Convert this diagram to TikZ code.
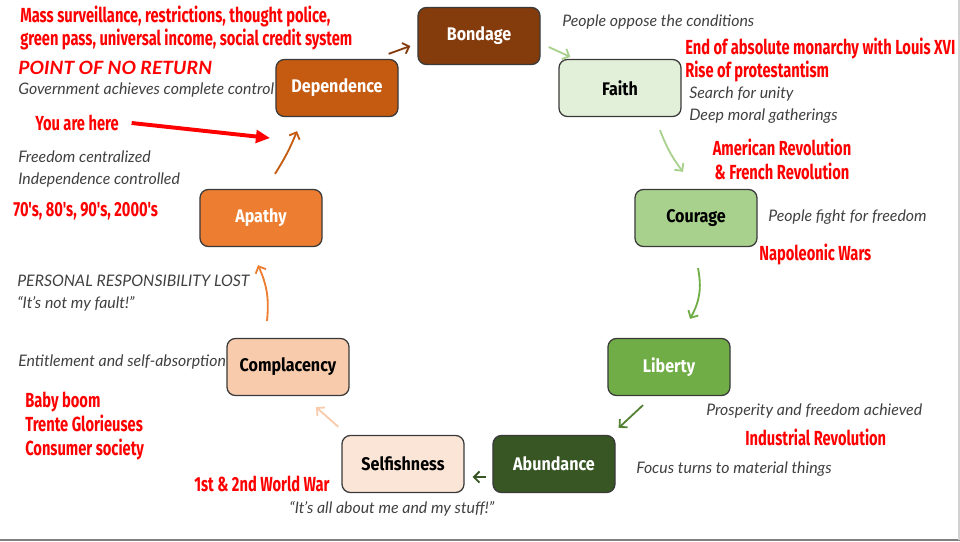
\documentclass[tikz,border=0pt]{standalone}
\usepackage{fontspec}
\setmainfont{Lato}
\newfontfamily\boxfont[FakeStretch=0.88]{Fira Sans}
\newfontfamily\redfont[FakeStretch=0.72]{Fira Sans}
\newfontfamily\ponrfont[FakeStretch=1.06]{Lato}
\usetikzlibrary{positioning, arrows.meta}

\definecolor{bondc}{HTML}{843C0C}
\definecolor{depc}{HTML}{C55A11}
\definecolor{apac}{HTML}{ED7D31}
\definecolor{compc}{HTML}{F8CBAD}
\definecolor{selfc}{HTML}{FBE5D6}
\definecolor{abundc}{HTML}{375623}
\definecolor{libc}{HTML}{70AD47}
\definecolor{libarr}{HTML}{548235}
\definecolor{courc}{HTML}{A9D18E}
\definecolor{faithc}{HTML}{E2F0D9}
\definecolor{edgec}{HTML}{3A3A3A}
\definecolor{notec}{HTML}{404040}
\definecolor{evred}{HTML}{FF0000}

\begin{document}
\begin{tikzpicture}[x=0.025cm, y=-0.025cm,
    stage/.style={draw=edgec, line width=0.9pt, rounded corners=6pt,
        minimum width=3.05cm, minimum height=1.425cm,
        font=\boxfont\bfseries\fontsize{13}{14}\selectfont},
    note/.style={anchor=west, inner sep=0pt, text=notec, align=left,
        font=\itshape\fontsize{11.3}{15.6}\selectfont},
    event/.style={anchor=west, inner sep=0pt, text=evred, align=left,
        font=\redfont\bfseries\fontsize{14.5}{17}\selectfont},
    arr/.style={-{Straight Barb[length=4pt,width=8pt]}, line width=1.3pt}]
    \useasboundingbox (0,0) rectangle (960,541);
    \draw[gray, line width=1.4pt] (0,540) -- (960,540);
    \draw[gray!35, line width=1pt] (959,0) -- (959,540);

    % The cycle
    \node[stage, fill=bondc, text=white] (bond) at (479,36) {Bondage};
    \node[stage, fill=faithc] (faith) at (620,88) {Faith};
    \node[stage, fill=courc] (cour) at (696,218) {Courage};
    \node[stage, fill=libc, text=white] (lib) at (669,367) {Liberty};
    \node[stage, fill=abundc, text=white] (abund) at (554,464) {Abundance};
    \node[stage, fill=selfc] (self) at (403,464) {Selfishness};
    \node[stage, fill=compc] (comp) at (288,367) {Complacency};
    \node[stage, fill=apac, text=white] (apa) at (261,218) {Apathy};
    \node[stage, fill=depc, text=white] (dep) at (337,88) {Dependence};

    \draw[arr, bondc] ([shift={(-10,-5)}]dep.north east) -- ([shift={(-7,10)}]bond.west);
    \draw[arr, courc] ([shift={(8,11)}]bond.east) -- ([shift={(12,-2)}]faith.north west);
    \draw[arr, courc] ([shift={(40,13)}]faith.south) to[bend right=8] ([shift={(-13,-17)}]cour.north);
    \draw[arr, libc] ([shift={(2,21)}]cour.south) to[bend left=20] ([shift={(21,-19)}]lib.north);
    \draw[arr, libarr] ([shift={(-26,9)}]lib.south) -- ([shift={(3,-7)}]abund.north east);
    \draw[arr, abundc] ([shift={(-6,13)}]abund.west) -- ([shift={(8,13)}]self.east);
    \draw[arr, compc] ([shift={(-3,-8)}]self.north west) -- ([shift={(28,11)}]comp.south);
    \draw[arr, apac] ([shift={(-21,-17)}]comp.north) to[bend right=15] ([shift={(-3,18)}]apa.south);
    \draw[arr, depc] ([shift={(14,-15)}]apa.north) to[bend right=5] ([shift={(-40,14)}]dep.south);

    % Left side
    \node[event, font=\redfont\bfseries\fontsize{14.5}{16.4}\selectfont] (mass) at (20,28)
        {Mass surveillance, restrictions, thought police,\\green pass, universal income, social credit system};
    \node[anchor=west, inner sep=0pt, text=evred, font=\ponrfont\bfseries\itshape\fontsize{13}{14}\selectfont] (ponr) at (18,68) {POINT OF NO RETURN};
    \node[note] (govt) at (18,90) {Government achieves complete control};
    \node[event] (here) at (35,123) {You are here};
    \coordinate (herept) at (270,138);
    \draw[evred, line width=2.8pt, -{Triangle[length=10pt,width=9pt]}] ([xshift=9pt]here.east) -- (herept);
    \node[note] (freedom) at (18,169) {Freedom centralized\\Independence controlled};
    \node[event] (decades) at (13,211) {70's, 80's, 90's, 2000's};
    \node[note] (resp) at (17,293) {PERSONAL RESPONSIBILITY LOST\\“It’s not my fault!”};
    \node[note] (entitle) at (18,362) {Entitlement and self-absorption};
    \node[event] (baby) at (25,426) {Baby boom\\Trente Glorieuses\\Consumer society};
    \node[event] (wwars) at (194,484) {1st \& 2nd World War};
    \node[note] (stuff) at (289,509) {“It’s all about me and my stuff!”};

    % Right side
    \node[note] (oppose) at (562,22) {People oppose the conditions};
    \node[event] (louis) at (685,60) {End of absolute monarchy with Louis XVI\\Rise of protestantism};
    \node[note] (unity) at (689,105) {Search for unity\\Deep moral gatherings};
    \node[event, anchor=center, align=center] (amrev) at (782,159) {American Revolution\\\& French Revolution};
    \node[note] (fight) at (768,217) {People fight for freedom};
    \node[event] (napo) at (759,254) {Napoleonic Wars};
    \node[note] (prosper) at (706,411) {Prosperity and freedom achieved};
    \node[event] (indus) at (745,437) {Industrial Revolution};
    \node[note] (focus) at (636,469) {Focus turns to material things};
\end{tikzpicture}
\end{document}
